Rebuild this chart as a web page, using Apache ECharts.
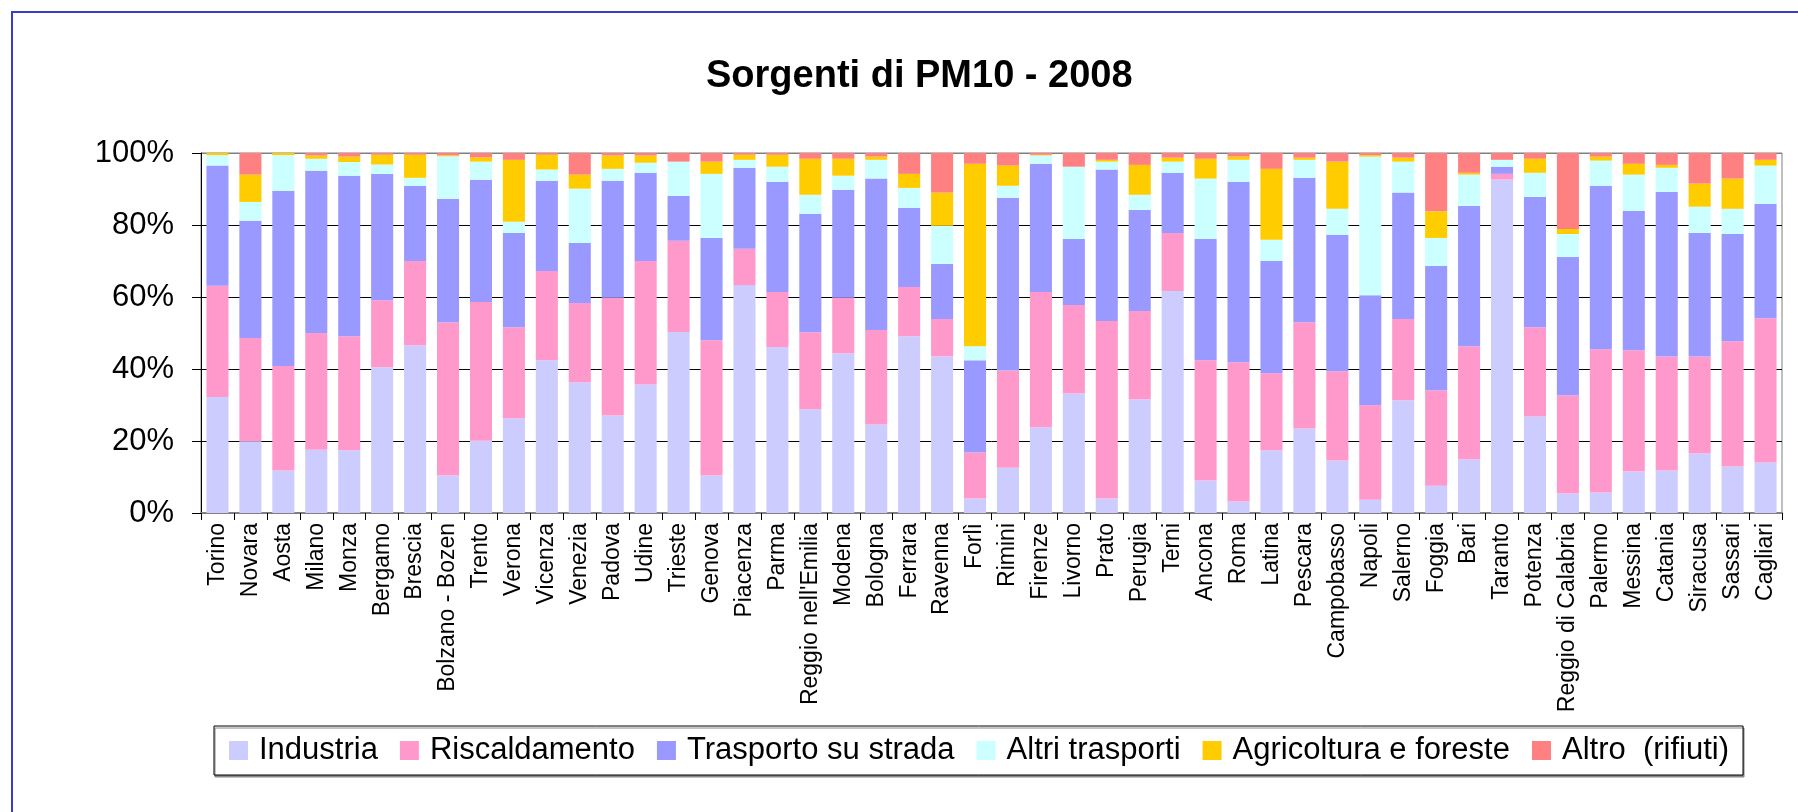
<!DOCTYPE html>
<html>
<head>
<meta charset="utf-8">
<script src="https://cdn.jsdelivr.net/npm/echarts@6/dist/echarts.min.js"></script>
<style>
  html, body { margin: 0; padding: 0; background: #fff; }
  #wrap { position: relative; width: 1798px; height: 812px; }
  #chart { width: 1798px; height: 812px; }
  #frame { position: absolute; left: 11px; top: 11px; right: 0; bottom: 0;
           border-top: 2px solid #3b3bcc; border-left: 2px solid #3b3bcc; pointer-events: none; }
</style>
</head>
<body>
<div id="wrap">
  <div id="chart"></div>
  <div id="frame"></div>
</div>
<script>
// città (ordine del grafico)
const cities = ['Torino', 'Novara', 'Aosta', 'Milano', 'Monza', 'Bergamo', 'Brescia', 'Bolzano - Bozen',
  'Trento', 'Verona', 'Vicenza', 'Venezia', 'Padova', 'Udine', 'Trieste', 'Genova', 'Piacenza', 'Parma',
  "Reggio nell'Emilia", 'Modena', 'Bologna', 'Ferrara', 'Ravenna', 'Forlì', 'Rimini', 'Firenze', 'Livorno',
  'Prato', 'Perugia', 'Terni', 'Ancona', 'Roma', 'Latina', 'Pescara', 'Campobasso', 'Napoli', 'Salerno',
  'Foggia', 'Bari', 'Taranto', 'Potenza', 'Reggio di Calabria', 'Palermo', 'Messina', 'Catania',
  'Siracusa', 'Sassari', 'Cagliari'];

// quote percentuali per sorgente
const industria = [32.2, 19.9, 11.8, 17.6, 17.4, 40.5, 46.6, 10.4, 20.1, 26.3, 42.4, 36.3, 27.1, 35.7, 50.3, 10.4,
  63.3, 46.1, 28.8, 44.4, 24.6, 49.1, 43.5, 4.0, 12.6, 23.8, 33.2, 4.0, 31.6, 61.7, 9.0, 3.2, 17.4, 23.5, 14.6,
  3.7, 31.3, 7.6, 14.9, 92.6, 26.8, 5.4, 5.7, 11.5, 11.8, 16.5, 12.9, 14.0];
const riscaldamento = [30.9, 28.7, 29.0, 32.4, 31.7, 18.6, 23.4, 42.6, 38.5, 25.3, 24.8, 22.0, 32.7, 34.3, 25.3, 37.6,
  10.1, 15.3, 21.4, 15.4, 26.2, 13.7, 10.4, 12.8, 27.0, 37.6, 24.6, 49.3, 24.5, 16.1, 33.4, 38.7, 21.4, 29.5, 24.8,
  26.2, 22.6, 26.5, 31.4, 1.6, 24.8, 27.3, 39.8, 33.7, 31.7, 27.0, 34.8, 40.1];
const trasportoStrada = [33.4, 32.6, 48.7, 45.1, 44.6, 35.1, 20.9, 34.3, 34.0, 26.2, 25.1, 16.7, 32.5, 24.5, 12.5, 28.4,
  22.5, 30.6, 32.9, 30.0, 42.1, 22.0, 15.3, 25.6, 48.0, 35.6, 18.3, 42.1, 28.1, 16.7, 33.7, 50.1, 31.2, 40.1, 37.9,
  30.6, 35.1, 34.5, 39.0, 2.0, 36.2, 38.4, 45.4, 38.7, 45.7, 34.3, 29.8, 31.8];
const altriTrasporti = [2.9, 5.2, 9.9, 3.3, 3.8, 2.6, 2.2, 11.8, 5.0, 3.1, 3.1, 15.1, 3.3, 2.8, 9.5, 17.8,
  2.2, 4.2, 5.3, 3.9, 5.2, 5.5, 10.6, 3.9, 3.3, 2.3, 20.1, 2.2, 4.2, 3.1, 16.8, 6.1, 5.9, 5.0, 7.2,
  38.5, 8.6, 7.8, 8.7, 1.9, 6.7, 6.4, 7.0, 10.1, 6.7, 7.3, 7.0, 10.6];
const agricoltura = [0.6, 7.6, 0.6, 0.9, 1.5, 2.7, 6.4, 0.3, 1.2, 17.2, 4.1, 3.9, 3.7, 2.0, 0, 3.4,
  1.4, 3.3, 10.0, 4.7, 0.9, 3.9, 9.2, 50.7, 5.6, 0.2, 0, 0.5, 8.3, 1.1, 5.5, 0.9, 19.7, 0.6, 13.1,
  0.4, 1.1, 7.4, 0.5, 0, 3.9, 1.4, 1.1, 3.0, 0.8, 6.4, 8.4, 1.6];
const altro = [0, 6.0, 0, 0.7, 1.0, 0.5, 0.5, 0.6, 1.2, 1.9, 0.5, 6.0, 0.7, 0.7, 2.4, 2.4,
  0.5, 0.5, 1.6, 1.6, 1.0, 5.8, 11.0, 3.0, 3.5, 0.5, 3.8, 1.9, 3.3, 1.3, 1.6, 1.0, 4.4, 1.3, 2.4,
  0.6, 1.3, 16.2, 5.5, 1.9, 1.6, 21.1, 1.0, 3.0, 3.3, 8.5, 7.1, 1.9];

const seriesNames = ['Industria', 'Riscaldamento', 'Trasporto su strada', 'Altri trasporti',
  'Agricoltura e foreste', 'Altro  (rifiuti)'];
const seriesData = [industria, riscaldamento, trasportoStrada, altriTrasporti, agricoltura, altro];
const colors = ['#ccccff', '#ff99cc', '#9999ff', '#ccffff', '#ffcc00', '#ff8080'];

const font = "'Liberation Sans', Arial, sans-serif";
const chart = echarts.init(document.getElementById('chart'));

const option = {
  animation: false,
  backgroundColor: '#fff',
  color: colors,
  textStyle: { fontFamily: font, color: '#000' },
  title: {
    text: 'Sorgenti di PM10 - 2008',
    left: 701,
    top: 53,
    textStyle: { fontFamily: font, fontSize: 38, fontWeight: 'bold', color: '#000' }
  },
  legend: {
    left: 214,
    top: 726,
    padding: [9, 14, 9, 15],
    itemGap: 22,
    itemWidth: 19,
    itemHeight: 19,
    borderColor: '#000',
    borderWidth: 1,
    backgroundColor: '#fff',
    shadowColor: '#888',
    shadowOffsetX: 1,
    shadowOffsetY: 2,
    shadowBlur: 0,
    icon: 'rect',
    textStyle: { fontFamily: font, fontSize: 31, color: '#000', padding: [2, 0, 0, 6] },
    data: seriesNames
  },
  grid: {
    left: 201, right: 16, top: 153, bottom: 299,
    show: true, borderColor: '#808080', borderWidth: 1, backgroundColor: 'transparent'
  },
  xAxis: {
    type: 'category',
    data: cities,
    axisLine: { lineStyle: { color: '#808080', width: 2 } },
    axisTick: { show: true, length: 7, lineStyle: { color: '#000' } },
    axisLabel: { rotate: 90, interval: 0, fontSize: 23, color: '#000', margin: 10, fontFamily: font }
  },
  yAxis: {
    type: 'value',
    min: 0, max: 100, interval: 20,
    axisLine: { show: true, lineStyle: { color: '#000' } },
    axisTick: { show: true, length: 9, lineStyle: { color: '#000' } },
    axisLabel: { formatter: '{value}%', fontSize: 31, color: '#000', margin: 27, fontFamily: font },
    splitLine: { show: true, lineStyle: { color: ['#808080', '#000', '#000', '#000', '#000', '#808080'], width: 1 } }
  },
  series: seriesNames.map((name, i) => ({
    name: name,
    type: 'bar',
    stack: 'pm10',
    barCategoryGap: '33%',
    data: seriesData[i],
    itemStyle: { color: colors[i] }
  }))
};
chart.setOption(option);
</script>
</body>
</html>
